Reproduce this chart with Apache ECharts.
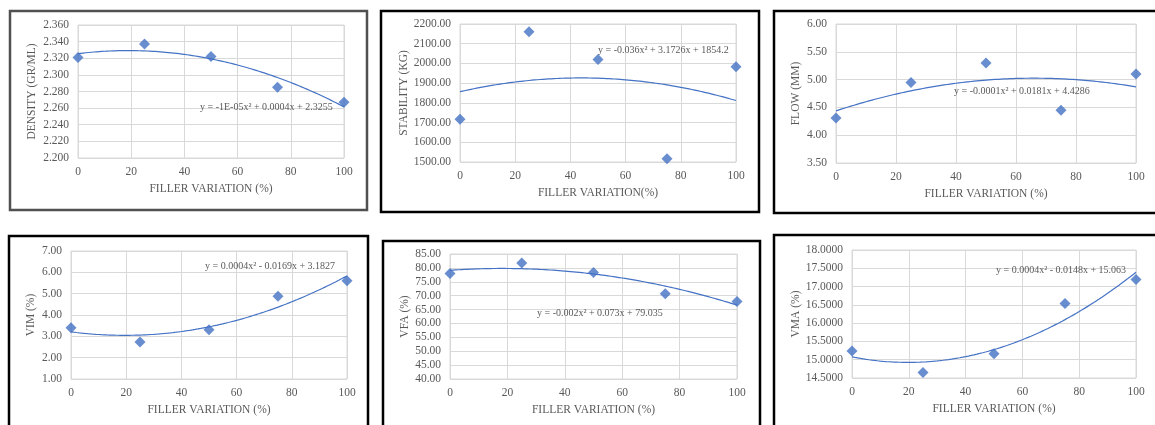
<!DOCTYPE html>
<html>
<head>
<meta charset="utf-8">
<script src="https://cdn.jsdelivr.net/npm/echarts@6/dist/echarts.min.js"></script>
<style>
  html, body { margin: 0; padding: 0; background: #fff; }
  #chart { width: 1155px; height: 425px; }
</style>
</head>
<body>
<div id="chart"></div>
<script>
// filler variation (%) on every x axis
const fillerX = [0, 25, 50, 75, 100];
const xTicks = [0, 20, 40, 60, 80, 100];

const density = [2.321, 2.337, 2.322, 2.285, 2.267];
const stability = [1717, 2161, 2020, 1517, 1983];
const flow = [4.31, 4.95, 5.30, 4.45, 5.10];
const vim = [3.40, 2.73, 3.31, 4.88, 5.60];
const vfa = [78.0, 81.8, 78.3, 70.7, 67.9];
const vma = [15.24, 14.65, 15.16, 16.54, 17.19];

// trendline labels as printed on the chart
const equations = [
    'y = -1E-05x² + 0.0004x + 2.3255',
    'y = -0.036x² + 3.1726x + 1854.2',
    'y = -0.0001x² + 0.0181x + 4.4286',
    'y = 0.0004x² - 0.0169x + 3.1827',
    'y = -0.002x² + 0.073x + 79.035',
    'y = 0.0004x² - 0.0148x + 15.063'
];

const textColor = '#595959';
const gridColor = '#d9d9d9';
const markColor = '#4472C4';
const font = 'Liberation Serif';

// least squares quadratic fit, same as the spreadsheet trendline
function polyFit2(xs, ys) {
    let s = [0, 0, 0, 0, 0], t = [0, 0, 0];
    for (let i = 0; i < xs.length; i++) {
        let p = 1;
        for (let k = 0; k < 5; k++) { s[k] += p; if (k < 3) t[k] += p * ys[i]; p *= xs[i]; }
    }
    const m = [[s[0], s[1], s[2], t[0]], [s[1], s[2], s[3], t[1]], [s[2], s[3], s[4], t[2]]];
    for (let c = 0; c < 3; c++) {
        for (let r = c + 1; r < 3; r++) {
            const f = m[r][c] / m[c][c];
            for (let k = c; k < 4; k++) m[r][k] -= f * m[c][k];
        }
    }
    const b = [0, 0, 0];
    for (let r = 2; r >= 0; r--) {
        let v = m[r][3];
        for (let k = r + 1; k < 3; k++) v -= m[r][k] * b[k];
        b[r] = v / m[r][r];
    }
    return b;
}

function trendPoints(ys) {
    const b = polyFit2(fillerX, ys);
    const pts = [];
    for (let x = 0; x <= 100; x += 1) pts.push([x, b[0] + b[1] * x + b[2] * x * x]);
    return pts;
}

const panels = [
    {data: density, yName: 'DENSITY (GR/ML)', xName: 'FILLER VARIATION (%)', min: 2.2, max: 2.36, interval: 0.02, digits: 3,
     grid: {left: 78, top: 25, width: 266, height: 133}, yGap: 40, eq: [200, 109],
     frame: [10, 11, 357, 199], frameColor: '#505050'},
    {data: stability, yName: 'STABILITY (KG)', xName: 'FILLER VARIATION(%)', min: 1500, max: 2200, interval: 100, digits: 2,
     grid: {left: 460, top: 24, width: 276, height: 138}, yGap: 48, eq: [598, 52],
     frame: [381, 11, 378, 201], frameColor: '#000'},
    {data: flow, yName: 'FLOW (MM)', xName: 'FILLER VARIATION (%)', min: 3.5, max: 6, interval: 0.5, digits: 2,
     grid: {left: 836, top: 24, width: 300, height: 139}, yGap: 34, eq: [954, 93],
     frame: [774, 11, 400, 202], frameColor: '#000'},
    {data: vim, yName: 'VIM (%)', xName: 'FILLER VARIATION (%)', min: 1, max: 7, interval: 1, digits: 2,
     grid: {left: 71, top: 251, width: 276, height: 128}, yGap: 34, eq: [205, 268],
     frame: [9, 236, 359, 200], frameColor: '#000'},
    {data: vfa, yName: 'VFA (%)', xName: 'FILLER VARIATION (%)', min: 40, max: 85, interval: 5, digits: 2,
     grid: {left: 450, top: 254, width: 287, height: 125}, yGap: 39, eq: [537, 315],
     frame: [383, 241, 377, 200], frameColor: '#000'},
    {data: vma, yName: 'VMA (%)', xName: 'FILLER VARIATION (%)', min: 14.5, max: 18, interval: 0.5, digits: 4,
     grid: {left: 852, top: 250, width: 284, height: 128}, yGap: 50, eq: [996, 272],
     frame: [774, 235, 400, 200], frameColor: '#000'}
];

const chart = echarts.init(document.getElementById('chart'));

const grids = [], xAxes = [], yAxes = [], series = [], graphics = [];
panels.forEach((p, i) => {
    grids.push(Object.assign({show: true, borderColor: gridColor, borderWidth: 1}, p.grid));
    xAxes.push({
        type: 'value', gridIndex: i, min: 0, max: 100, interval: 20,
        name: p.xName, nameLocation: 'middle', nameGap: 25,
        nameTextStyle: {color: textColor, fontFamily: font, fontSize: 11.5},
        axisLine: {show: false}, axisTick: {show: false},
        axisLabel: {color: textColor, fontFamily: font, fontSize: 11.5, margin: 8,
            formatter: v => xTicks.includes(v) ? String(v) : ''},
        splitLine: {show: true, lineStyle: {color: gridColor, width: 1}}
    });
    yAxes.push({
        type: 'value', gridIndex: i, min: p.min, max: p.max, interval: p.interval,
        name: p.yName, nameLocation: 'middle', nameGap: p.yGap, nameRotate: 90,
        nameTextStyle: {color: textColor, fontFamily: font, fontSize: 11.5},
        axisLine: {show: false}, axisTick: {show: false},
        axisLabel: {color: textColor, fontFamily: font, fontSize: 11.5, margin: 9,
            formatter: v => v.toFixed(p.digits)},
        splitLine: {show: true, lineStyle: {color: gridColor, width: 1}}
    });
    series.push({
        type: 'line', xAxisIndex: i, yAxisIndex: i,
        data: trendPoints(p.data), showSymbol: false, symbol: 'none',
        lineStyle: {color: markColor, width: 1.2}, silent: true, z: 2
    });
    series.push({
        type: 'scatter', xAxisIndex: i, yAxisIndex: i,
        data: fillerX.map((x, k) => [x, p.data[k]]),
        symbol: 'diamond', symbolSize: 11,
        itemStyle: {color: markColor}, z: 3
    });
    graphics.push({
        type: 'text', left: p.eq[0], top: p.eq[1] - 7, z: 10,
        style: {text: equations[i], fill: textColor, font: '10px "' + font + '"'}
    });
    graphics.push({
        type: 'rect', z: 10, silent: true,
        shape: {x: p.frame[0], y: p.frame[1], width: p.frame[2], height: p.frame[3]},
        style: {fill: 'none', stroke: p.frameColor, lineWidth: 2.5}
    });
});

chart.setOption({
    backgroundColor: '#fff',
    animation: false,
    grid: grids,
    xAxis: xAxes,
    yAxis: yAxes,
    series: series,
    graphic: graphics
});
</script>
</body>
</html>
